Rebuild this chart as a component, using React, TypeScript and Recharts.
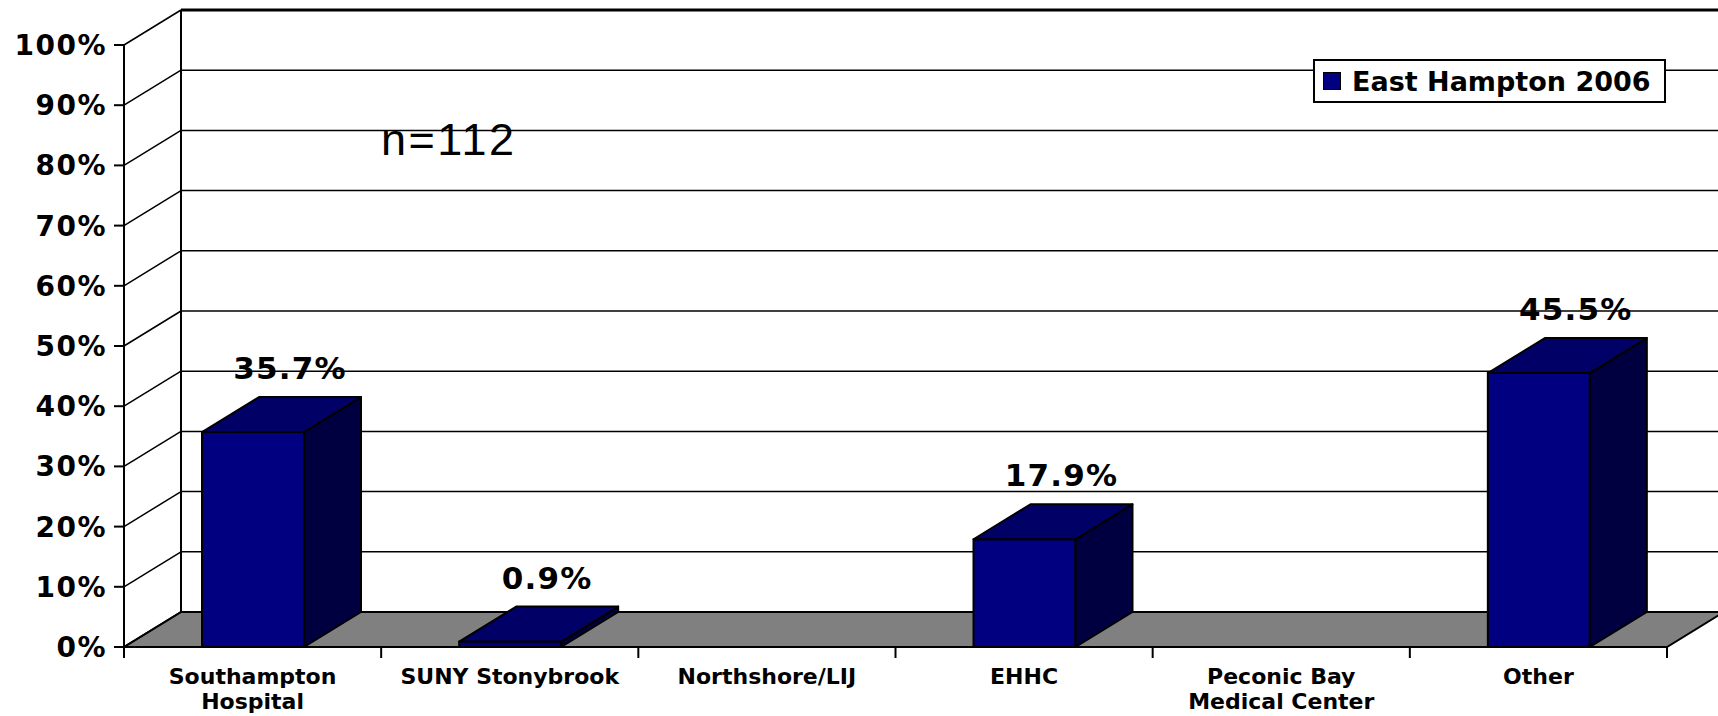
import React from "react"
import { BarChart, Bar, XAxis, YAxis, CartesianGrid, Legend, LabelList } from "recharts"

// chart values
const categories = ["Southampton\nHospital", "SUNY Stonybrook", "Northshore/LIJ", "EHHC", "Peconic Bay\nMedical Center", "Other"]
const eastHampton2006 = [35.7, 0.9, null, 17.9, null, 45.5]
const yTicks = [0, 10, 20, 30, 40, 50, 60, 70, 80, 90, 100]
const seriesName = "East Hampton 2006"
const sampleNote = "n=112"

const data = categories.map((name, i) => ({ name, value: eastHampton2006[i] }))

// layout
const W = 1718
const H = 716
const MARGIN = { top: 45, right: 51, bottom: 0, left: 0 }
const Y_AXIS_W = 124
const X_AXIS_H = 69
const DX = 57
const DY = 35
const BOLD = "'DejaVu Sans', Verdana, sans-serif"

const FRONT = "#000080"
const TOP = "#000066"
const SIDE = "#000040"

function Bar3D(props: any) {
    const { x, y, width, height } = props
    const v = props.payload?.value
    if (v == null || !(height > 0)) return null
    const top = `${x},${y} ${x + DX},${y - DY} ${x + width + DX},${y - DY} ${x + width},${y}`
    const side = `${x + width},${y} ${x + width + DX},${y - DY} ${x + width + DX},${y + height - DY} ${x + width},${y + height}`
    return (
        <g stroke="#000" strokeWidth={2} strokeLinejoin="round">
            <rect x={x} y={y} width={width} height={height} fill={FRONT} />
            <polygon points={side} fill={SIDE} />
            <polygon points={top} fill={TOP} />
        </g>
    )
}

function ValueLabel(props: any) {
    const vb = props.viewBox || {}
    const x = typeof props.x === "number" ? props.x : vb.x
    const y = typeof props.y === "number" ? props.y : vb.y
    const width = typeof props.width === "number" ? props.width : vb.width
    if (props.value == null) return null
    return (
        <text
            x={x + width / 2 + 37}
            y={y - DY - 18}
            textAnchor="middle"
            fontFamily={BOLD}
            fontWeight={700}
            fontSize={31}
            letterSpacing={1.2}
            fill="#000"
        >
            {Number(props.value).toFixed(1)}%
        </text>
    )
}

function YTick(props: any) {
    const { x, y, payload } = props
    return (
        <g>
            <line x1={x - 10} y1={y} x2={x} y2={y} stroke="#000" strokeWidth={2} />
            <line x1={x} y1={y} x2={x + DX} y2={y - DY} stroke="#000" strokeWidth={1.5} />
            <text
                x={x - 17}
                y={y}
                dy="0.36em"
                textAnchor="end"
                fontFamily={BOLD}
                fontWeight={700}
                fontSize={28}
                letterSpacing={1.5}
                fill="#000"
            >
                {payload.value}%
            </text>
        </g>
    )
}

function XTick(props: any) {
    const { x, y, payload, index } = props
    const fallback = (W - MARGIN.right - Y_AXIS_W) / categories.length / 2
    const half = typeof payload?.offset === "number" && payload.offset > 1 ? payload.offset : fallback
    const lines = String(payload.value).split("\n")
    return (
        <g>
            <line x1={x - half} y1={y} x2={x - half} y2={y + 11} stroke="#000" strokeWidth={2} />
            {index === categories.length - 1 && (
                <line x1={x + half} y1={y} x2={x + half} y2={y + 11} stroke="#000" strokeWidth={2} />
            )}
            <text textAnchor="middle" fontFamily={BOLD} fontWeight={700} fontSize={22} fill="#000">
                {lines.map((l, i) => (
                    <tspan key={i} x={x} y={y + 37 + i * 25}>
                        {l}
                    </tspan>
                ))}
            </text>
        </g>
    )
}

function GridLine(props: any) {
    const { x1, x2, y1 } = props
    const top = typeof props.y === "number" ? props.y : MARGIN.top
    const bottom = typeof props.height === "number" ? top + props.height : H - X_AXIS_H
    const isBottom = Math.abs(y1 - bottom) < 1
    const isTop = Math.abs(y1 - top) < 1
    return (
        <g key={`grid-${y1}`}>
            {isBottom && (
                <polygon
                    points={`${x1},${y1} ${x2},${y1} ${x2 + DX},${y1 - DY} ${x1 + DX},${y1 - DY}`}
                    fill="#808080"
                    stroke="#000"
                    strokeWidth={2}
                />
            )}
            <line x1={x1 + DX} y1={y1 - DY} x2={x2 + DX} y2={y1 - DY} stroke="#000" strokeWidth={isTop ? 3 : 1.5} />
            {isBottom && <line x1={x1 + DX} y1={y1 - DY} x2={x1 + DX} y2={top - DY} stroke="#000" strokeWidth={2} />}
        </g>
    )
}

function LegendBox() {
    return (
        <div
            style={{
                boxSizing: "border-box",
                width: 353,
                height: 44,
                border: "2px solid #000",
                background: "#fff",
                display: "flex",
                alignItems: "center",
            }}
        >
            <span
                style={{
                    display: "inline-block",
                    boxSizing: "border-box",
                    width: 18,
                    height: 18,
                    marginLeft: 8,
                    background: FRONT,
                    border: "1.5px solid #000",
                }}
            />
            <span style={{ marginLeft: 11, fontFamily: BOLD, fontWeight: 700, fontSize: 27, color: "#000", whiteSpace: "nowrap" }}>
                {seriesName}
            </span>
        </div>
    )
}

export default function App() {
    return (
        <div style={{ position: "absolute", left: 0, top: 0, width: W, height: H, background: "#fff" }}>
            <BarChart width={W} height={H} data={data} margin={MARGIN}>
                <CartesianGrid vertical={false} horizontal={GridLine as any} />
                <XAxis
                    dataKey="name"
                    height={X_AXIS_H}
                    interval={0}
                    tickSize={0}
                    tickMargin={0}
                    tickLine={false}
                    axisLine={{ stroke: "#000", strokeWidth: 2 }}
                    tick={<XTick />}
                />
                <YAxis
                    width={Y_AXIS_W}
                    domain={[0, 100]}
                    ticks={yTicks}
                    interval={0}
                    tickSize={0}
                    tickMargin={0}
                    tickLine={false}
                    axisLine={{ stroke: "#000", strokeWidth: 2 }}
                    tick={<YTick />}
                />
                <Legend
                    layout="horizontal"
                    align="center"
                    verticalAlign="middle"
                    wrapperStyle={{ left: 1313, top: 59, width: 353, height: 44 }}
                    content={() => <LegendBox />}
                />
                <Bar dataKey="value" name={seriesName} barSize={102} shape={Bar3D} isAnimationActive={false}>
                    <LabelList dataKey="value" content={ValueLabel} />
                </Bar>
            </BarChart>
            <svg width={W} height={H} style={{ position: "absolute", left: 0, top: 0, pointerEvents: "none" }}>
                <text
                    x={381}
                    y={155}
                    fontFamily="'Liberation Sans', Arial, sans-serif"
                    fontSize={45}
                    letterSpacing={2.5}
                    fill="#000"
                >
                    {sampleNote}
                </text>
            </svg>
        </div>
    )
}
